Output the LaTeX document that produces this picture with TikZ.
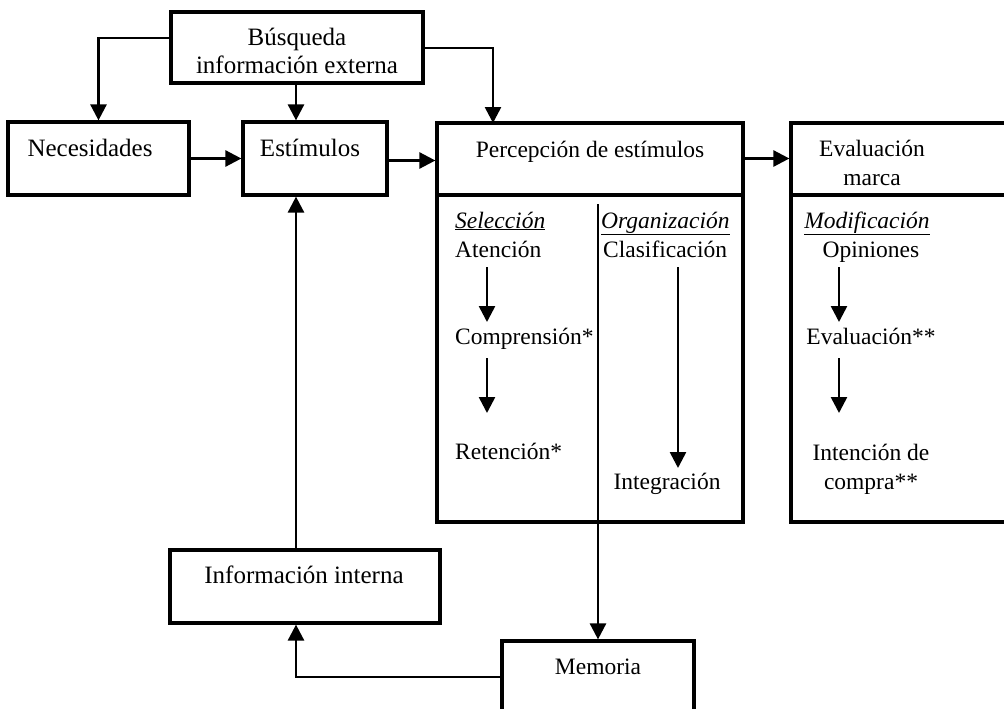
\documentclass[tikz,border=0pt]{standalone}
\usepackage{fontspec}
\setmainfont{Liberation Serif}
\usetikzlibrary{arrows.meta}
\begin{document}
\begin{tikzpicture}[x=1pt,y=-1pt,
  box/.style={draw, line width=3.2pt, rectangle, inner sep=0pt},
  conn/.style={line width=2.6pt, -{Triangle[length=16pt,width=16pt]}},
  big/.style={font=\fontsize{25}{28}\selectfont, inner sep=0pt, anchor=base},
  txt/.style={font=\fontsize{23.5}{28}\selectfont, inner sep=0pt, anchor=base},
  txtl/.style={txt, anchor=base west},
]
\useasboundingbox (0,0) rectangle (1004,709);
\clip (0,0) rectangle (1004,709);

% boxes
\node[box, minimum width=252pt, minimum height=71pt] (busq) at (297,47.5) {};
\node[box, minimum width=181pt, minimum height=73pt] (nec) at (98.5,158.5) {};
\node[box, minimum width=144pt, minimum height=73pt] (est) at (315,158.5) {};
\node[box, minimum width=306pt, minimum height=399pt] (perc) at (590,322.5) {};
\node[box, minimum width=239pt, minimum height=399pt] (eval) at (910.5,322.5) {};
\node[box, minimum width=270pt, minimum height=73pt] (info) at (305,586.5) {};
\node[box, minimum width=192pt, minimum height=99pt] (mem) at (598,690.5) {};

% header dividers
\draw[line width=3.2pt] (437,195) -- (743,195);
\draw[line width=3.2pt] (791,195) -- (1010,195);

% box texts
\node[big] (tb1) at (297,45.5) {Búsqueda};
\node[big] (tb2) at (297,74) {información externa};
\node[big] (tnec) at (90,156.5) {Necesidades};
\node[big] (test) at (310,156.5) {Estímulos};
\node[big] (tinfo) at (304,583) {Información interna};
\node[txt] (tperc) at (590,157) {Percepción de estímulos};
\node[txt] (tev1) at (872,156) {Evaluación};
\node[txt] (tev2) at (872,185) {marca};
\node[txt] (tmem) at (598,674) {Memoria};

% Percepción: Selección column
\node[txtl] (sel) at (455,228) {\underline{\textit{Selección}}};
\node[txtl] (aten) at (455,257.5) {Atención};
\node[txtl] (comp) at (455,344) {Comprensión*};
\node[txtl] (ret) at (455,459) {Retención*};
% Percepción: Organización column
\node[txtl] (org) at (601,228) {\underline{\textit{Organización}}};
\node[txtl] (clas) at (603,257.5) {Clasificación};
\node[txt] (integ) at (667,489) {Integración};
% Evaluación column
\node[txt] (modif) at (867,228) {\underline{\textit{Modificación}}};
\node[txt] (opin) at (871,257.5) {Opiniones};
\node[txt] (evalu) at (871,344) {Evaluación**};
\node[txt] (inten1) at (871,460) {Intención de};
\node[txt] (inten2) at (871,489) {compra**};

% connector points
\coordinate (pin) at (493,123);
\coordinate (col) at (296,0);
\coordinate (orgtop) at (598,204);
\coordinate (s1) at (487,267);
\coordinate (s2) at (487,322);
\coordinate (s3) at (487,358);
\coordinate (s4) at (487,413);
\coordinate (o1) at (678,267);
\coordinate (o2) at (678,468);
\coordinate (m1) at (839,267);
\coordinate (m2) at (839,322);
\coordinate (m3) at (839,358);
\coordinate (m4) at (839,413);

% connectors
\draw[conn] ([yshift=9.5pt]busq.west) -| (nec.north);
\draw[conn] (busq.south -| col) -- (est.north -| col);
\draw[conn] ([yshift=-0.5pt]busq.east) -| (pin);
\draw[conn] (nec.east) -- (est.west);
\draw[conn] ([yshift=-2pt]est.east) -- ([yshift=-2pt]est.east -| perc.west);
\draw[conn] (perc.east |- est.east) -- (eval.west |- est.east);
\draw[conn] (info.north -| col) -- (est.south -| col);
\draw[conn] ([yshift=13.5pt]mem.west) -| (info.south -| col);
\draw[conn] (orgtop) -- (mem.north);

\draw[conn] (s1) -- (s2);
\draw[conn] (s3) -- (s4);
\draw[conn] (o1) -- (o2);
\draw[conn] (m1) -- (m2);
\draw[conn] (m3) -- (m4);
\end{tikzpicture}
\end{document}
